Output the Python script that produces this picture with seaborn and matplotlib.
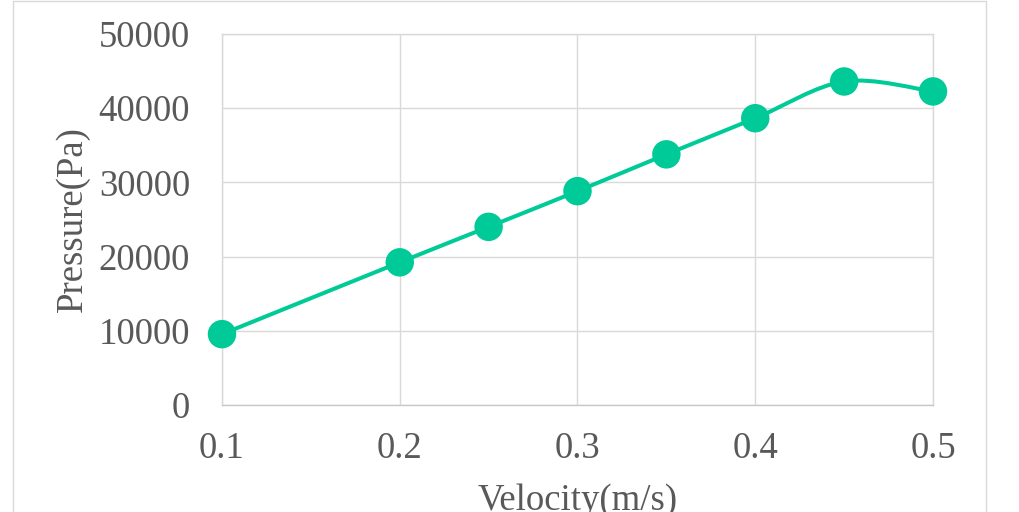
import numpy as np
import pandas as pd
import matplotlib
matplotlib.use('Agg')
import matplotlib.pyplot as plt
import seaborn as sns
from matplotlib.path import Path
from matplotlib.patches import PathPatch, Rectangle

# ================== data ==================
velocity = [0.1, 0.2, 0.25, 0.3, 0.35, 0.4, 0.45, 0.5]
pressure = [9550, 19230, 24010, 28820, 33780, 38650, 43600, 42260]
x_ticks = [0.1, 0.2, 0.3, 0.4, 0.5]
y_ticks = [0, 10000, 20000, 30000, 40000, 50000]

df = pd.DataFrame({'Velocity(m/s)': velocity, 'Pressure(Pa)': pressure})

# ================== style ==================
sns.set_style('white')
plt.rcParams['font.family'] = ['Liberation Serif', 'DejaVu Serif']

line_color = '#00CA97'
grid_color = '#D9D9D9'
text_color = '#595959'

fig = plt.figure(figsize=(10.2, 5.12), dpi=100)
ax = fig.add_axes([222 / 1020, 1 - 405 / 512, (933 - 222) / 1020, (405 - 34) / 512])

# smoothed line (Excel-like Bezier smoothing through the points)
pts = np.column_stack([velocity, pressure]).astype(float)
n = len(pts)
verts = [pts[0]]
codes = [Path.MOVETO]
for i in range(n - 1):
    p0 = pts[i - 1] if i > 0 else pts[i]
    p1 = pts[i]
    p2 = pts[i + 1]
    p3 = pts[i + 2] if i + 2 < n else pts[i + 1]
    c1 = p1 + (p2 - p0) / 6
    c2 = p2 - (p3 - p1) / 6
    verts += [c1, c2, p2]
    codes += [Path.CURVE4] * 3
patch = PathPatch(Path(verts, codes), facecolor='none', edgecolor=line_color,
                  lw=2.9, capstyle='round', joinstyle='round', clip_on=False, zorder=3)
ax.add_patch(patch)

sns.scatterplot(data=df, x='Velocity(m/s)', y='Pressure(Pa)', ax=ax,
                color=line_color, s=420, edgecolor='none', clip_on=False, zorder=4)

ax.set_xlim(0.1, 0.5)
ax.set_ylim(0, 50000)
ax.set_xticks(x_ticks)
ax.set_yticks(y_ticks)
ax.set_xticklabels([f'{t:.1f}' for t in x_ticks])
ax.set_yticklabels([str(t) for t in y_ticks])
ax.grid(True, color=grid_color, lw=1.0)
ax.set_axisbelow(True)
for side, sp in ax.spines.items():
    sp.set_visible(True)
    sp.set_color(grid_color)
    sp.set_linewidth(1.0)
ax.spines['bottom'].set_color('#C8C8C8')

ax.tick_params(axis='both', length=0, labelsize=26.5, labelcolor=text_color)
ax.tick_params(axis='y', pad=23)
ax.tick_params(axis='x', pad=19)

ax.set_xlabel('Velocity(m/s)', fontsize=26.5, color=text_color, va='top')
ax.set_ylabel('Pressure(Pa)', fontsize=26.5, color=text_color, va='center')
ax.xaxis.set_label_coords(0.5, -0.21)
ax.yaxis.set_label_coords((73 - 222) / 711, 0.5)

# chart area border
fig.add_artist(Rectangle((13 / 1020, -0.2), (986 - 13) / 1020, 1.2 - 1 / 512,
                         transform=fig.transFigure, facecolor='none',
                         edgecolor=grid_color, lw=1.0, clip_on=False))

fig.savefig('out.png', dpi=100)
